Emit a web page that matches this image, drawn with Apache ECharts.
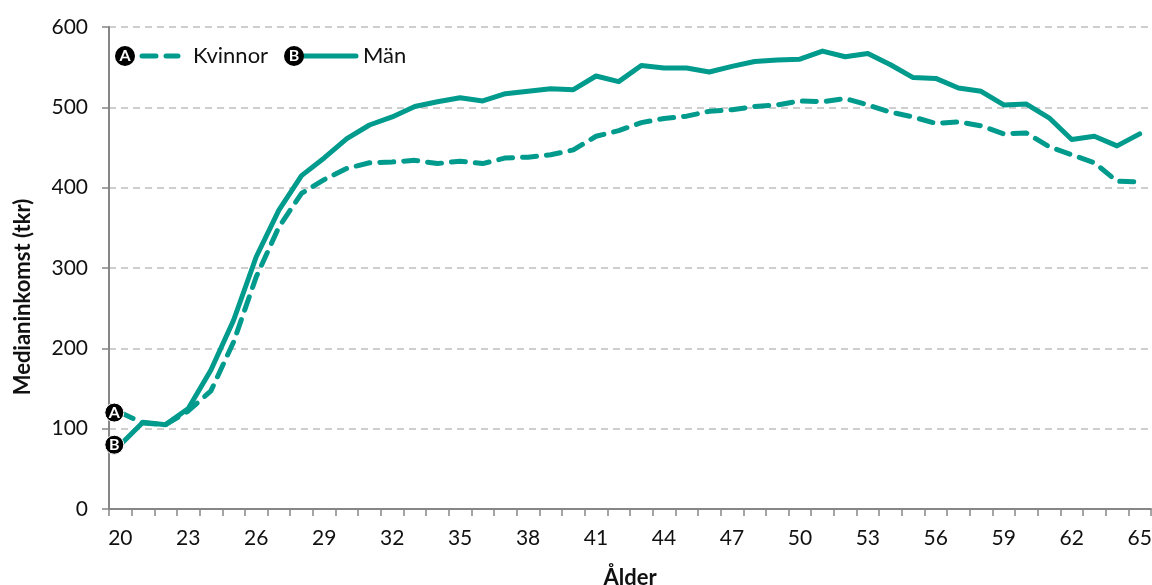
<!DOCTYPE html>
<html><head><meta charset="utf-8">
<style>html,body{margin:0;padding:0;background:#fff}#c{width:1152px;height:585px}</style>
<script src="https://cdn.jsdelivr.net/npm/echarts@6/dist/echarts.min.js"></script>
</head><body><div id="c"></div>
<script>
const ages = ["20","21","22","23","24","25","26","27","28","29","30","31","32","33","34","35","36","37","38","39","40","41","42","43","44","45","46","47","48","49","50","51","52","53","54","55","56","57","58","59","60","61","62","63","64","65"];
const kvinnor = [120,107,105,122,147,208,289,351,393,410,424,431,432,434,430,433,430,437,438,441,447,464,471,481,486,489,495,497,501,503,508,507,511,503,494,488,480,482,477,467,468,451,441,431,408,407];
const man = [80,108,105,125,173,235,314,372,415,437,461,478,488,501,507,512,508,517,520,523,522,539,532,552,549,549,544,551,557,559,560,570,563,567,553,537,536,524,520,503,504,487,460,464,452,467];
const FONT = 'Lato,"Noto Sans",sans-serif';
const TEAL = '#009b8d';
const TEXT = '#111111';
const badge = (v, letter) => ({
  value: v, symbol: 'circle', symbolSize: 19, symbolOffset: [-6, 0],
  itemStyle: {color: '#000', borderColor: '#fff', borderWidth: 1, opacity: 1},
  label: {show: true, position: 'inside', formatter: letter,
    color: '#fff', fontWeight: 'bold', fontSize: 16, fontFamily: FONT}
});
const seriesData = (arr, letter) => arr.map((v, i) => i === 0 ? badge(v, letter) : v);
const line = (name, arr, letter, type) => ({
  name, type: 'line', data: seriesData(arr, letter), symbol: 'none', showSymbol: true,
  lineStyle: {color: TEAL, width: 5, type, cap: 'round', join: 'round'},
  itemStyle: {color: TEAL}, z: letter === 'A' ? 3 : 4, animation: false
});
const legendItem = (name, left, width) => ({
  data: [{name, icon: 'none'}], show: true, left, top: 36, itemWidth: width, itemHeight: 30, itemGap: 0,
  selectedMode: false, textStyle: {fontSize: 22, color: TEXT, fontFamily: FONT}
});
const badgeGfx = (cx, letter) => [
  {type: 'circle', z: 20, shape: {cx, cy: 56, r: 10}, style: {fill: '#000'}},
  {type: 'text', z: 21, x: cx, y: 56, style: {text: letter, fill: '#fff', font: 'bold 16px ' + FONT, align: 'center', verticalAlign: 'middle'}}
];
const chart = echarts.init(document.getElementById('c'), null, {renderer: 'canvas'});
chart.setOption({
  animation: false,
  backgroundColor: '#fff',
  grid: {left: 109, right: 1, top: 27, bottom: 76, outerBoundsMode: 'none'},
  legend: [legendItem('Kvinnor', 118, 65), legendItem('Män', 295, 58)],
  graphic: [
    {type: 'line', z: 10, shape: {x1: 118, y1: 56, x2: 178, y2: 56}, style: {stroke: TEAL, lineWidth: 5, lineDash: [14, 10], lineDashOffset: 0, lineCap: 'round'}},
    {type: 'line', z: 10, shape: {x1: 296, y1: 56, x2: 356, y2: 56}, style: {stroke: TEAL, lineWidth: 5, lineCap: 'round'}},
    ...badgeGfx(125, 'A'), ...badgeGfx(294, 'B')
  ],
  xAxis: {
    type: 'category', data: ages, boundaryGap: true, name: 'Ålder', nameLocation: 'middle', nameGap: 58,
    nameTextStyle: {fontWeight: 'bold', fontSize: 22, color: TEXT, fontFamily: FONT},
    axisLine: {lineStyle: {color: '#868686', width: 2}},
    axisTick: {show: true, interval: 0, length: 7, lineStyle: {color: '#868686', width: 1.5}},
    axisLabel: {interval: 2, fontSize: 21, color: TEXT, fontFamily: FONT, margin: 19},
    splitLine: {show: false}
  },
  yAxis: {
    type: 'value', min: 0, max: 600, interval: 100,
    name: 'Medianinkomst (tkr)', nameLocation: 'middle', nameGap: 75,
    nameTextStyle: {fontWeight: 'bold', fontSize: 22, color: TEXT, fontFamily: FONT, padding: [0, 58, 0, 0]},
    axisLine: {show: true, lineStyle: {color: '#868686', width: 2}},
    axisTick: {show: true, length: 7, lineStyle: {color: '#868686', width: 1.5}},
    axisLabel: {fontSize: 21, color: TEXT, fontFamily: FONT, margin: 21},
    splitLine: {show: true, lineStyle: {color: '#bfbfbf', width: 1.5, type: [7, 5]}}
  },
  series: [line('Kvinnor', kvinnor, 'A', [14, 10]), line('Män', man, 'B', 'solid')]
});
</script></body></html>
